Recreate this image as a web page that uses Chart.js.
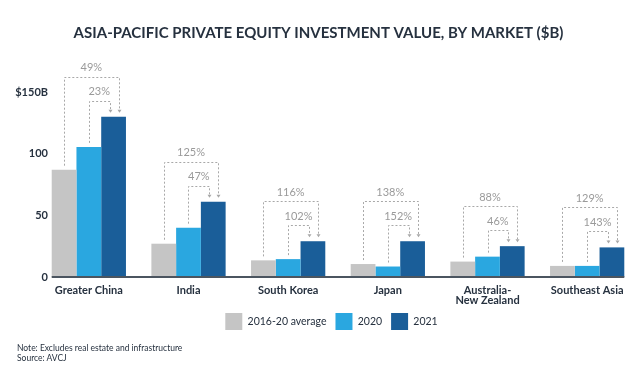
<!DOCTYPE html>
<html>
<head>
<meta charset="utf-8">
<script src="https://cdn.jsdelivr.net/npm/chart.js@4.4.1/dist/chart.umd.min.js"></script>
<style>
  html, body { margin: 0; padding: 0; background: #fff; }
  #wrap { position: relative; width: 640px; height: 377px; }
  #note { position: absolute; left: 17px; top: 343px; font: 8.5px Lato, sans-serif; color: #26313f; line-height: 10px; }
</style>
</head>
<body>
<div id="wrap">
  <canvas id="chart" width="640" height="377"></canvas>
  <div id="note">Note: Excludes real estate and infrastructure<br>Source: AVCJ</div>
</div>
<script>
// ===== Data =====
const categories = ["Greater China", "India", "South Korea", "Japan", ["Australia-", "New Zealand"], "Southeast Asia"];
const avgValues = [87, 27, 13.5, 10.5, 12.5, 9];
const values2020 = [105.5, 40, 14.5, 8.5, 16.5, 9];
const values2021 = [130, 61, 29, 29, 25, 24];
const growthVsAvg = ["49%", "125%", "116%", "138%", "88%", "129%"];
const growthVs2020 = ["23%", "47%", "102%", "152%", "46%", "143%"];
const yTicks = [0, 50, 100, 150];

const TEXT = "#26313f";
const DOTS = "#a8a8a8";

// ===== Brackets + baseline =====
const bracketPlugin = {
    id: "brackets",
    afterLayout(chart) {
        // legend sits a bit right of centre in the original
        chart.legend.left += 13;
        chart.legend.right += 13;
    },
    afterDatasetsDraw(chart) {
        const ctx = chart.ctx;
        const avgBars = chart.getDatasetMeta(0).data;
        const bars2020 = chart.getDatasetMeta(1).data;
        const bars2021 = chart.getDatasetMeta(2).data;
        const y0 = chart.scales.y.getPixelForValue(0);

        ctx.save();
        // baseline under the bars
        ctx.strokeStyle = "#4b5560";
        ctx.lineWidth = 2;
        ctx.beginPath();
        ctx.moveTo(avgBars[0].x - avgBars[0].width / 2, y0);
        const last = bars2021[bars2021.length - 1];
        ctx.lineTo(last.x + last.width / 2, y0);
        ctx.stroke();

        function bracket(fromBar, toBar, lineY, rightX, label) {
            const lx = Math.round(fromBar.x) + 0.5;
            const rx = Math.round(rightX) + 0.5;
            const ly = Math.round(lineY) + 0.5;
            ctx.strokeStyle = DOTS;
            ctx.lineWidth = 1;
            ctx.setLineDash([2, 2]);
            ctx.beginPath();
            ctx.moveTo(lx, fromBar.y - 4);
            ctx.lineTo(lx, ly);
            ctx.lineTo(rx, ly);
            ctx.lineTo(rx, toBar.y - 7);
            ctx.stroke();
            ctx.setLineDash([]);
            ctx.fillStyle = DOTS;
            ctx.beginPath();
            ctx.moveTo(rx - 2, toBar.y - 7);
            ctx.lineTo(rx + 2, toBar.y - 7);
            ctx.lineTo(rx, toBar.y - 4);
            ctx.closePath();
            ctx.fill();
            ctx.fillStyle = "#9a9a9a";
            ctx.font = "11px Lato";
            ctx.textAlign = "center";
            ctx.textBaseline = "middle";
            ctx.fillText(label, (fromBar.x + rightX) / 2, lineY - 9);
        }

        for (let i = 0; i < categories.length; i++) {
            const top = bars2021[i].y;
            bracket(avgBars[i], bars2021[i], top - 40, bars2021[i].x + 5, growthVsAvg[i]);
            bracket(bars2020[i], bars2021[i], top - 16, bars2021[i].x - 4, growthVs2020[i]);
        }
        ctx.restore();
    }
};

// tick labels may spill outside their scale box
const noLabelClip = s => { s._computeLabelArea = () => undefined; };

// ===== Chart =====
new Chart(document.getElementById("chart"), {
    type: "bar",
    data: {
        labels: categories,
        datasets: [
            { label: "2016-20 average", data: avgValues, backgroundColor: "#c5c5c5" },
            { label: "2020", data: values2020, backgroundColor: "#2aa7e0" },
            { label: "2021", data: values2021, backgroundColor: "#1a5e99" }
        ]
    },
    options: {
        responsive: false,
        animation: false,
        layout: { padding: { left: 0, right: 3, top: 0, bottom: 37 } },
        datasets: { bar: { categoryPercentage: 0.745, barPercentage: 1 } },
        plugins: {
            title: {
                display: true,
                text: "ASIA-PACIFIC PRIVATE EQUITY INVESTMENT VALUE, BY MARKET ($B)",
                color: TEXT,
                font: { family: "Lato", size: 15, weight: "bold" },
                padding: { top: 24, bottom: 50 }
            },
            legend: {
                position: "bottom",
                labels: {
                    color: TEXT,
                    font: { family: "Lato", size: 10.5 },
                    boxWidth: 17,
                    boxHeight: 17,
                    padding: 9
                }
            },
            tooltip: { enabled: false }
        },
        scales: {
            x: {
                grid: { display: false, drawTicks: false },
                border: { display: false },
                ticks: {
                    color: TEXT,
                    font: { family: "Lato", size: 11, weight: "bold", lineHeight: 0.95 },
                    padding: 8,
                    maxRotation: 0
                },
                afterFit: s => { s.height = 27; noLabelClip(s); }
            },
            y: {
                min: 0,
                max: 150,
                grid: { display: false, drawTicks: false },
                border: { display: false },
                afterBuildTicks: s => { s.ticks = yTicks.map(v => ({ value: v })); },
                ticks: {
                    color: TEXT,
                    font: { family: "Lato", size: 11, weight: "bold" },
                    padding: -9,
                    callback: v => (v === 150 ? "$150B" : v)
                },
                afterFit: s => { s.width = 39; noLabelClip(s); }
            }
        }
    },
    plugins: [bracketPlugin]
});
</script>
</body>
</html>
